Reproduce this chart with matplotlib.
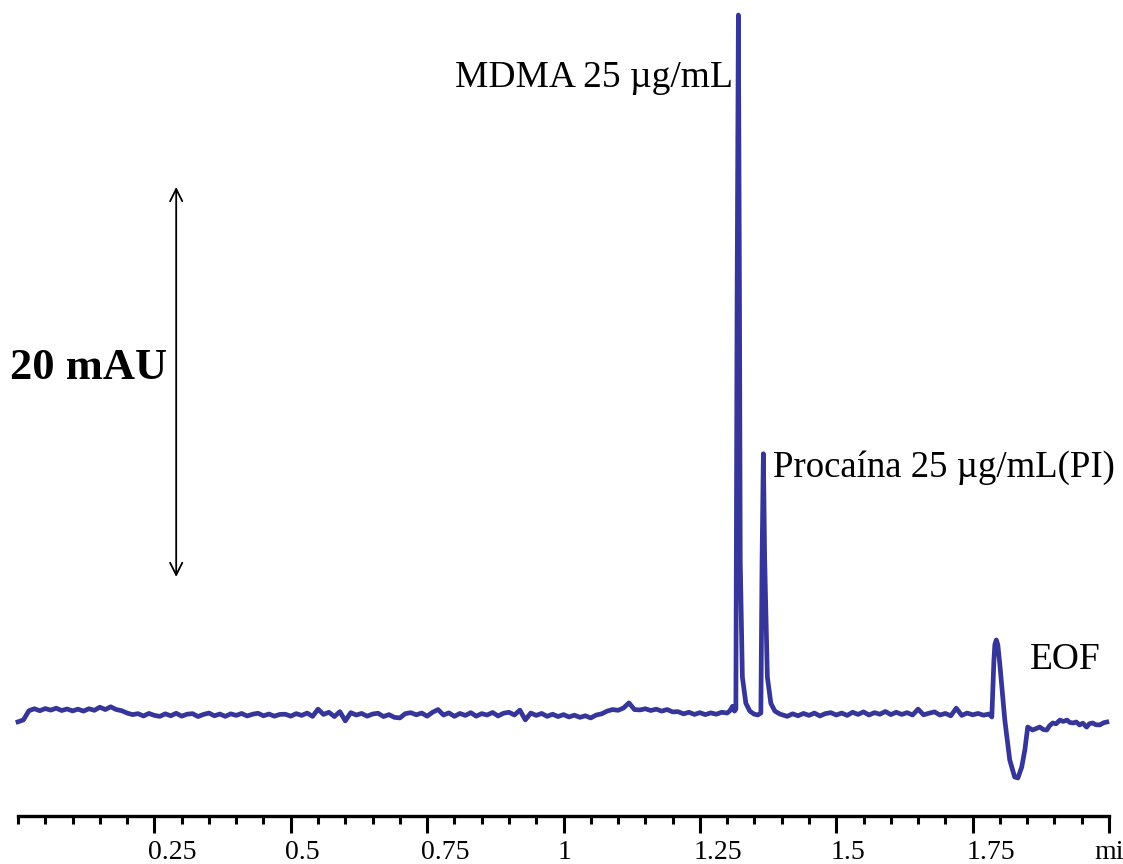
import numpy as np
import matplotlib
matplotlib.use("Agg")
import matplotlib.pyplot as plt
from matplotlib.ticker import MultipleLocator, FixedLocator
from matplotlib.transforms import ScaledTranslation

plt.rcParams['font.family'] = ['Liberation Serif', 'DejaVu Serif']

# electropherogram signal (mAU) vs migration time (min)
# baseline before the peaks, sampled every 0.01 min from 0.00 to 1.30
base1_mau = [-0.35, -0.25, 0.22, 0.32, 0.22, 0.33, 0.25, 0.35, 0.23, 0.31, 0.21,
             0.30, 0.20, 0.32, 0.24, 0.40, 0.28, 0.42, 0.28, 0.22, 0.10, 0.02,
             0.07, -0.05, 0.08, -0.02, -0.07, 0.06, -0.04, 0.09, -0.06, 0.04,
             0.07, -0.08, 0.03, 0.10, -0.04, 0.05, -0.07, 0.06, -0.02, 0.08,
             -0.05, 0.04, 0.09, -0.04, 0.05, -0.06, 0.03,
             0.04, -0.06, 0.07, -0.02, 0.10, -0.07, 0.30, 0.03, 0.14, -0.08,
             0.17, -0.30, 0.12, 0.00, 0.08, -0.06, 0.05, 0.09, -0.08, 0.02,
             -0.12, -0.15, 0.07, 0.12, 0.01, 0.10, -0.06, 0.14, 0.28, 0.00,
             0.11, -0.07, 0.08, -0.02, 0.12, -0.06, 0.07, 0.00, 0.13, -0.05,
             0.09, 0.14, 0.00, 0.25, -0.25, 0.10, -0.02, 0.08, -0.07,
             0.04, -0.08, 0.02, -0.10, -0.01, -0.12, -0.04, -0.15, 0.00, 0.06,
             0.20, 0.28, 0.24, 0.36, 0.62, 0.28, 0.26, 0.32, 0.23, 0.30,
             0.20, 0.28, 0.16, 0.17, 0.06, 0.14, 0.03, 0.12, 0.02, 0.11,
             0.04, 0.14, 0.10]
base1_t = np.round(np.arange(len(base1_mau)) * 0.01, 2)

# MDMA and procaine peaks
peaks_t = [1.305, 1.310, 1.3135, 1.3160, 1.3182, 1.3206, 1.3226, 1.3240, 1.3279,
           1.3343, 1.3416, 1.3490, 1.3560, 1.3618, 1.3640, 1.3664, 1.3688,
           1.3737, 1.3801, 1.3875, 1.3966]
peaks_mau = [0.22, 0.45, 0.20, 0.30, 21.3, 35.9, 21.3, 7.95, 1.95,
             0.60, 0.20, 0.05, 0.00, 0.10, 7.95, 13.4, 7.95,
             1.95, 0.60, 0.20, 0.05]

# baseline between procaine and EOF, 1.40 to 1.78 min
base2_mau = [0.02, -0.07, 0.06, -0.04, 0.08, -0.02, 0.10, -0.05, 0.07, 0.12,
             0.00, 0.10, -0.02, 0.14, 0.03, 0.16, 0.00, 0.12, 0.04, 0.18,
             0.02, 0.14, 0.03, 0.12, 0.00, 0.30, 0.01, 0.09, 0.16, 0.00,
             0.08, -0.04, 0.35, -0.02, 0.10, 0.01, 0.08, -0.01, 0.05]
base2_t = np.round(1.40 + np.arange(len(base2_mau)) * 0.01, 2)

# EOF disturbance and tail
eof_t = [1.7852, 1.7890, 1.7907, 1.7934, 1.7962, 1.8000, 1.8035, 1.8090, 1.8180,
         1.8270, 1.8330, 1.8400, 1.8457, 1.8510, 1.8600, 1.8660, 1.8730, 1.8800,
         1.8860, 1.8910, 1.8970, 1.9030, 1.9100, 1.9160, 1.9230, 1.9280, 1.9340,
         1.9400, 1.9460, 1.9520, 1.9590, 1.9640, 1.9700, 1.9760, 1.9830, 1.9900,
         1.9960]
eof_mau = [-0.10, 2.80, 3.60, 3.85, 3.60, 2.56, 1.44, -0.26, -2.30,
           -3.18, -3.23, -2.67, -1.80, -0.62, -0.77, -0.70, -0.62, -0.75,
           -0.77, -0.55, -0.41, -0.45, -0.26, -0.33, -0.26, -0.38, -0.41,
           -0.36, -0.51, -0.42, -0.62, -0.45, -0.41, -0.50, -0.51, -0.40,
           -0.36]

tick_pos = [0.25, 0.5, 0.75, 1.0, 1.25, 1.5, 1.75, 2.0]
tick_text = ['0.25', '0.5', '0.75', '1', '1.25', '1.5', '1.75', 'min']

scale_bar = (7.08, 27.08)  # 20 mAU

t = np.concatenate([base1_t, peaks_t, base2_t, eof_t])
mau = np.concatenate([base1_mau, peaks_mau, base2_mau, eof_mau])

fig = plt.figure(figsize=(11.23, 8.64), dpi=100)
ax = fig.add_axes([18 / 1123, 48 / 864, (1109 - 18) / 1123, 816 / 864])

ax.plot(t, mau, color='#35359a', lw=3.4, solid_joinstyle='round', clip_on=False)

ax.set_xlim(0, 2.0)
ax.set_ylim(-5.18, 36.67)

for side in ['left', 'right', 'top']:
    ax.spines[side].set_visible(False)
ax.spines['bottom'].set_linewidth(2.4)
ax.set_yticks([])

ax.xaxis.set_major_locator(FixedLocator(tick_pos))
ax.xaxis.set_minor_locator(MultipleLocator(0.05))
ax.set_xticklabels(tick_text)
ax.tick_params(axis='x', which='major', length=12, width=2.2, labelsize=20, pad=5)
ax.tick_params(axis='x', which='minor', length=6, width=2.2)
for lab in ax.get_xticklabels():
    lab.set_horizontalalignment('left')
    dx = -15 if lab.get_text() == 'min' else -6
    lab.set_transform(lab.get_transform() + ScaledTranslation(dx / 100, 0, fig.dpi_scale_trans))

# peak labels
ax.text(1.3105, 32.7, 'MDMA 25 µg/mL', fontsize=27, ha='right', va='center')
ax.text(1.384, 12.67, 'Procaína 25 µg/mL(PI)', fontsize=26.5, ha='left', va='center')
ax.text(1.855, 2.82, 'EOF', fontsize=27, ha='left', va='center')

# 20 mAU scale bar
ax.annotate('', xy=(0.29, scale_bar[1]), xytext=(0.29, scale_bar[0]),
            arrowprops=dict(arrowstyle='<->', lw=1.3, color='black', mutation_scale=22,
                            shrinkA=0, shrinkB=0))
ax.text(-0.015, 17.8, '20 mAU', fontsize=32, fontweight='bold', ha='left', va='center')

fig.savefig('out.png', dpi=100)
